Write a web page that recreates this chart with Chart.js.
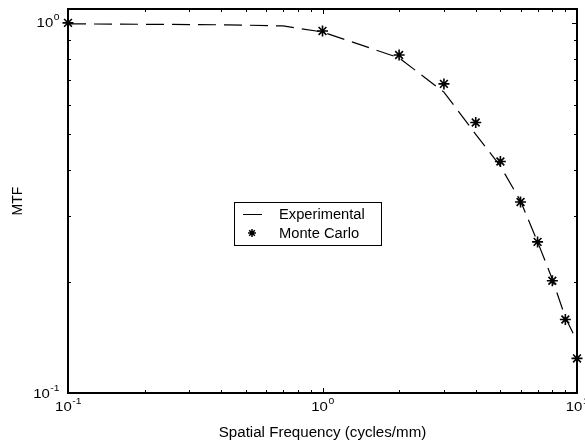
<!DOCTYPE html>
<html>
<head>
<meta charset="utf-8">
<script src="https://cdn.jsdelivr.net/npm/chart.js@4.4.1/dist/chart.umd.min.js"></script>
<style>
  html, body { margin: 0; padding: 0; background: #fff; }
  #mtf { display: block; }
</style>
</head>
<body>
<canvas id="mtf" width="585" height="443"></canvas>
<script>
// measured MTF (dashed line)
const expFreq = [0.1, 0.42, 0.7, 1, 2, 3, 4, 5, 6, 7, 8, 9, 10];
const expMtf  = [0.994, 0.988, 0.981, 0.945, 0.804, 0.65, 0.50, 0.41, 0.33, 0.256, 0.203, 0.16, 0.138];

// simulated MTF (stars)
const mcFreq = [0.1, 1, 2, 3, 4, 5, 6, 7, 8, 9, 10];
const mcMtf  = [1.0, 0.951, 0.819, 0.684, 0.538, 0.422, 0.328, 0.256, 0.201, 0.158, 0.124];

// decade ticks and their exponents
const xDecades = [0.1, 1, 10];
const xExps    = ['-1', '0', '1'];
const yDecades = [0.1, 1];
const yExps    = ['-1', '0'];

const seriesNames = ['Experimental', 'Monte Carlo'];
const xTitle = 'Spatial Frequency (cycles/mm)';
const yTitle = 'MTF';

const FONT = '"Liberation Sans", Arial, sans-serif';

function toXY(xs, ys) {
    return xs.map((x, i) => ({ x: x, y: ys[i] }));
}

function minorTicks(decades, max) {
    const out = [];
    decades.forEach(d => {
        for (let m = 2; m <= 9; m++) {
            if (d * m < max) out.push(d * m);
        }
    });
    return out;
}

function stretchText(ctx, text, x, y, size, align, sx) {
    ctx.save();
    ctx.font = size + 'px ' + FONT;
    ctx.translate(x, y);
    ctx.scale(sx, 1);
    ctx.textAlign = align;
    ctx.textBaseline = 'alphabetic';
    ctx.fillText(text, 0, 0);
    ctx.restore();
}

// "10" with a raised exponent
function powerLabel(ctx, exp, x, y, mode) {
    const sx = 1.15;
    ctx.save();
    ctx.font = '13px ' + FONT;
    const w1 = ctx.measureText('10').width * sx;
    ctx.font = '9px ' + FONT;
    const w2 = ctx.measureText(exp).width * sx;
    ctx.restore();
    let left;
    if (mode === 'center') left = x - (w1 + w2) / 2;
    else left = x - (w1 + w2);
    stretchText(ctx, '10', left, y, 13, 'left', sx);
    stretchText(ctx, exp, left + w1 + 0.5, y - 7, 9, 'left', sx);
}

function drawStar(ctx, x, y, r) {
    const d = r * Math.SQRT1_2;
    ctx.beginPath();
    ctx.moveTo(x - r, y); ctx.lineTo(x + r, y);
    ctx.moveTo(x, y - r); ctx.lineTo(x, y + r);
    ctx.moveTo(x - d, y - d); ctx.lineTo(x + d, y + d);
    ctx.moveTo(x - d, y + d); ctx.lineTo(x + d, y - d);
    ctx.stroke();
}

const axesPlugin = {
    id: 'matlabAxes',
    beforeDatasetsDraw(chart) {
        const ctx = chart.ctx;
        const a = chart.chartArea;
        const xs = chart.scales.x, ys = chart.scales.y;
        ctx.save();
        ctx.strokeStyle = '#000';
        ctx.fillStyle = '#000';
        ctx.lineWidth = 1;

        const tick = (px, len, horiz) => {
            ctx.beginPath();
            if (horiz) {
                ctx.moveTo(px, a.bottom); ctx.lineTo(px, a.bottom - len);
                ctx.moveTo(px, a.top); ctx.lineTo(px, a.top + len);
            } else {
                ctx.moveTo(a.left, px); ctx.lineTo(a.left + len, px);
                ctx.moveTo(a.right, px); ctx.lineTo(a.right - len, px);
            }
            ctx.stroke();
        };
        xDecades.forEach(v => tick(Math.round(xs.getPixelForValue(v)) + 0.5, 5, true));
        minorTicks(xDecades, 10).forEach(v => tick(Math.round(xs.getPixelForValue(v)) + 0.5, 3, true));
        yDecades.forEach(v => tick(Math.round(ys.getPixelForValue(v)) + 0.5, 5, false));
        minorTicks(yDecades, ys.max).forEach(v => tick(Math.round(ys.getPixelForValue(v)) + 0.5, 3, false));

        ctx.lineWidth = 2;
        ctx.strokeRect(a.left, a.top, a.right - a.left, a.bottom - a.top);

        xDecades.forEach((v, i) => powerLabel(ctx, xExps[i], xs.getPixelForValue(v), a.bottom + 18, 'center'));
        yDecades.forEach((v, i) => powerLabel(ctx, yExps[i], a.left - 9, ys.getPixelForValue(v) + 4.5, 'right'));

        stretchText(ctx, xTitle, (a.left + a.right) / 2, 437, 14, 'center', 1.08);
        ctx.save();
        ctx.translate(22, 201);
        ctx.rotate(-Math.PI / 2);
        stretchText(ctx, yTitle, 0, 0, 14, 'center', 1.0);
        ctx.restore();
        ctx.restore();
    },
    afterDatasetsDraw(chart) {
        const ctx = chart.ctx;
        ctx.save();
        ctx.fillStyle = '#fff';
        ctx.fillRect(234, 202, 147, 43);
        ctx.strokeStyle = '#000';
        ctx.lineWidth = 1;
        ctx.strokeRect(234.5, 202.5, 147, 43);
        ctx.beginPath();
        ctx.moveTo(243, 214.5); ctx.lineTo(262, 214.5);
        ctx.stroke();
        ctx.lineWidth = 1.5;
        drawStar(ctx, 252, 233, 4);
        ctx.fillStyle = '#000';
        stretchText(ctx, seriesNames[0], 279, 219, 14, 'left', 1.05);
        stretchText(ctx, seriesNames[1], 279, 238, 14, 'left', 1.05);
        ctx.restore();
    }
};

new Chart(document.getElementById('mtf'), {
    type: 'scatter',
    data: {
        datasets: [
            {
                label: seriesNames[0],
                data: toXY(expFreq, expMtf),
                showLine: true,
                borderColor: '#000',
                borderWidth: 1.2,
                borderDash: [18, 8],
                pointRadius: 0,
                tension: 0,
                clip: false
            },
            {
                label: seriesNames[1],
                data: toXY(mcFreq, mcMtf),
                showLine: false,
                pointStyle: 'star',
                pointRadius: 5.5,
                pointBorderWidth: 1.6,
                pointBorderColor: '#000',
                pointBackgroundColor: '#000',
                clip: false
            }
        ]
    },
    options: {
        responsive: false,
        animation: false,
        layout: { padding: { left: 68, right: 8, top: 9, bottom: 50 } },
        plugins: {
            legend: { display: false },
            tooltip: { enabled: false }
        },
        scales: {
            x: { type: 'logarithmic', min: 0.1, max: 10, display: false },
            y: { type: 'logarithmic', min: 0.1, max: 1.09, display: false }
        }
    },
    plugins: [axesPlugin]
});
</script>
</body>
</html>
